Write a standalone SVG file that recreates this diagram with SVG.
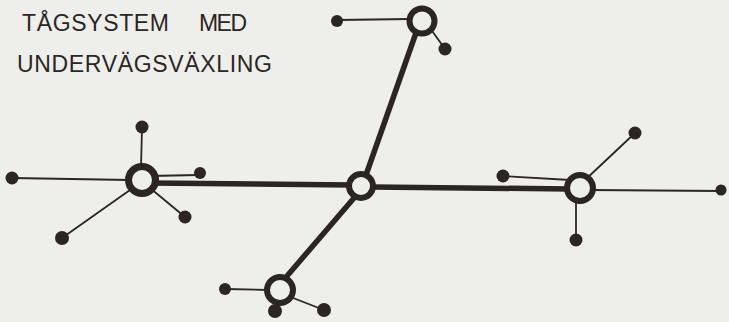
<svg xmlns="http://www.w3.org/2000/svg" width="729" height="322" viewBox="0 0 729 322">
<style>
.bg{fill:#eeeeeb}
.t{font-family:"Liberation Sans",Arial,sans-serif;font-size:23px;fill:#2b2623;font-weight:normal}
.thick{stroke:#2b2623;stroke-width:5.5;stroke-linecap:round;fill:none}
.thin{stroke:#2b2623;stroke-width:1.8;stroke-linecap:round;fill:none}
.hub{fill:#eeeeeb;stroke:#2b2623;stroke-width:6}
.dot{fill:#2b2623}
</style>
<rect class="bg" x="0" y="0" width="729" height="322"/>
<g id="title">
<text class="t" x="22" y="31" textLength="147" lengthAdjust="spacing">TÅGSYSTEM</text>
<text class="t" x="199" y="31" textLength="48" lengthAdjust="spacing">MED</text>
<text class="t" x="17" y="72" textLength="255" lengthAdjust="spacing">UNDERVÄGSVÄXLING</text>
</g>
<g id="connectors">
<line class="thick" x1="150" y1="183" x2="352" y2="185"/>
<line class="thick" x1="372" y1="187" x2="570" y2="189"/>
<line class="thick" x1="366" y1="175" x2="417" y2="30"/>
<line class="thick" x1="354" y1="198" x2="287" y2="276"/>
<line class="thin" x1="142" y1="127" x2="141" y2="168"/>
<line class="thin" x1="12" y1="178" x2="130" y2="180"/>
<line class="thin" x1="150" y1="176" x2="198" y2="175"/>
<line class="thin" x1="150" y1="188" x2="185" y2="217"/>
<line class="thin" x1="130" y1="190" x2="62" y2="238"/>
<line class="thin" x1="337" y1="20" x2="410" y2="19"/>
<line class="thin" x1="430" y1="28" x2="445" y2="49"/>
<line class="thin" x1="225" y1="289" x2="268" y2="290"/>
<line class="thin" x1="288" y1="296" x2="324" y2="310"/>
<line class="thin" x1="503" y1="176" x2="570" y2="180"/>
<line class="thin" x1="585" y1="180" x2="635" y2="133"/>
<line class="thin" x1="590" y1="190" x2="721" y2="191"/>
<line class="thin" x1="576" y1="200" x2="576" y2="240"/>
</g>
<g id="hub-left"><circle class="hub" cx="142" cy="180" r="13.5" style="stroke-width:7"/></g>
<g id="hub-center"><circle class="hub" cx="361" cy="186" r="12"/></g>
<g id="hub-top"><circle class="hub" cx="422" cy="21" r="12.5"/></g>
<g id="hub-bottom"><circle class="hub" cx="280" cy="290" r="13"/></g>
<g id="hub-right"><circle class="hub" cx="580" cy="188" r="13"/></g>
<g id="dot-l1"><circle class="dot" cx="142" cy="127" r="6.5"/></g>
<g id="dot-l2"><circle class="dot" cx="12" cy="178" r="6.5"/></g>
<g id="dot-l3"><circle class="dot" cx="200" cy="173" r="6"/></g>
<g id="dot-l4"><circle class="dot" cx="185" cy="217" r="6.5"/></g>
<g id="dot-l5"><circle class="dot" cx="62" cy="238" r="7"/></g>
<g id="dot-t1"><circle class="dot" cx="337" cy="21" r="6"/></g>
<g id="dot-t2"><circle class="dot" cx="445" cy="49" r="6.5"/></g>
<g id="dot-b1"><circle class="dot" cx="225" cy="289" r="6"/></g>
<g id="dot-b2"><circle class="dot" cx="275" cy="311" r="7"/></g>
<g id="dot-b3"><circle class="dot" cx="324" cy="310" r="7"/></g>
<g id="dot-r1"><circle class="dot" cx="503" cy="176" r="6.5"/></g>
<g id="dot-r2"><circle class="dot" cx="635" cy="133" r="6.5"/></g>
<g id="dot-r3"><circle class="dot" cx="721" cy="190" r="5.5"/></g>
<g id="dot-r4"><circle class="dot" cx="576" cy="240" r="6.5"/></g>
</svg>
